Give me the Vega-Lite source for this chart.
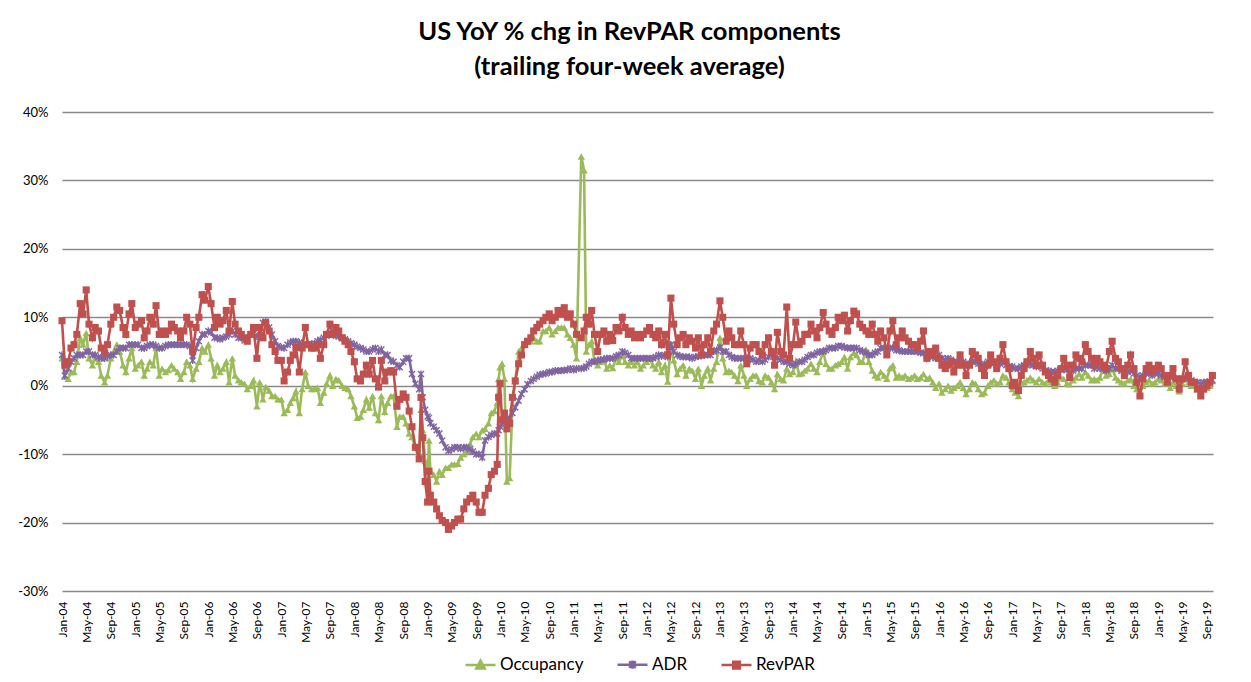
{
"$schema":"https://vega.github.io/schema/vega-lite/v6.json",
"width":1151,"height":479,
"autosize":{"type":"none"},
"padding":{"left":62,"top":112,"right":38,"bottom":91},
"background":"white",
"title":{"text":["US YoY % chg in RevPAR components","(trailing four-week average)"],"fontSize":25.5,"font":"Lato","fontWeight":"bold","color":"#000","anchor":"middle","offset":26,"dx":-8,"lineHeight":35},
"config":{"view":{"stroke":null},"font":"Lato"},
"data":{"format":{"parse":{"d":"date:'%Y-%m-%d'"}},"values":[
{"d":"2004-01-01","o":4,"a":4.5,"r":9.5},
{"d":"2004-01-15","o":1.3,"a":1.5,"r":3},
{"d":"2004-02-01","o":1,"a":2.5,"r":3.5},
{"d":"2004-02-15","o":2,"a":3.5,"r":5.5},
{"d":"2004-03-01","o":2,"a":4,"r":6},
{"d":"2004-03-15","o":3.5,"a":4.5,"r":7.5},
{"d":"2004-04-01","o":7,"a":4.5,"r":12},
{"d":"2004-04-15","o":6,"a":4.5,"r":10.5},
{"d":"2004-05-01","o":7.7,"a":5,"r":14},
{"d":"2004-05-15","o":4,"a":5,"r":9},
{"d":"2004-06-01","o":3,"a":4.5,"r":7},
{"d":"2004-06-15","o":4,"a":4.5,"r":8.5},
{"d":"2004-07-01","o":3.5,"a":4.2,"r":8},
{"d":"2004-07-15","o":1.5,"a":4,"r":5.5},
{"d":"2004-08-01","o":0.5,"a":4,"r":4.8},
{"d":"2004-08-15","o":1.5,"a":4.3,"r":6},
{"d":"2004-09-01","o":4,"a":4.5,"r":9},
{"d":"2004-09-15","o":5,"a":4.5,"r":10},
{"d":"2004-10-01","o":6,"a":5,"r":11.5},
{"d":"2004-10-15","o":5,"a":5.5,"r":11},
{"d":"2004-11-01","o":3,"a":5.5,"r":8.5},
{"d":"2004-11-15","o":2,"a":5.5,"r":7.5},
{"d":"2004-12-01","o":4,"a":6,"r":10.5},
{"d":"2004-12-15","o":5.5,"a":6,"r":12},
{"d":"2005-01-01","o":2.5,"a":6,"r":8.5},
{"d":"2005-01-15","o":3,"a":6,"r":9},
{"d":"2005-02-01","o":3.5,"a":5.5,"r":9.5},
{"d":"2005-02-15","o":1.5,"a":5.5,"r":7},
{"d":"2005-03-01","o":2.5,"a":5.8,"r":8},
{"d":"2005-03-15","o":3.5,"a":6,"r":10},
{"d":"2005-04-01","o":3,"a":6,"r":9},
{"d":"2005-04-15","o":5.5,"a":5.8,"r":11.7},
{"d":"2005-05-01","o":1.5,"a":5.5,"r":7.5},
{"d":"2005-05-15","o":2.5,"a":5.5,"r":8},
{"d":"2005-06-01","o":2,"a":5.8,"r":7.5},
{"d":"2005-06-15","o":2.3,"a":6,"r":8},
{"d":"2005-07-01","o":3,"a":6,"r":9},
{"d":"2005-07-15","o":2.5,"a":6,"r":8.5},
{"d":"2005-08-01","o":2,"a":6,"r":8},
{"d":"2005-08-15","o":1,"a":6,"r":7},
{"d":"2005-09-01","o":2,"a":6,"r":8},
{"d":"2005-09-15","o":3.5,"a":6,"r":10},
{"d":"2005-10-01","o":3,"a":5.8,"r":9},
{"d":"2005-10-15","o":1,"a":3.7,"r":5},
{"d":"2005-11-01","o":2.5,"a":5.5,"r":8.5},
{"d":"2005-11-15","o":3.5,"a":6.5,"r":10},
{"d":"2005-12-01","o":5.5,"a":7.5,"r":13.3},
{"d":"2005-12-15","o":5,"a":7.5,"r":12.5},
{"d":"2006-01-01","o":6,"a":8,"r":14.5},
{"d":"2006-01-15","o":4,"a":7.8,"r":12},
{"d":"2006-02-01","o":1.5,"a":7,"r":8.5},
{"d":"2006-02-15","o":3,"a":7,"r":10},
{"d":"2006-03-01","o":2,"a":6.8,"r":9},
{"d":"2006-03-15","o":2.5,"a":7,"r":9.5},
{"d":"2006-04-01","o":3.5,"a":7.2,"r":11},
{"d":"2006-04-15","o":0.5,"a":7.5,"r":8},
{"d":"2006-05-01","o":4,"a":8,"r":12.3},
{"d":"2006-05-15","o":1.5,"a":7.5,"r":9},
{"d":"2006-06-01","o":0.8,"a":7,"r":8},
{"d":"2006-06-15","o":0.5,"a":7,"r":7.5},
{"d":"2006-07-01","o":0.3,"a":6.6,"r":7},
{"d":"2006-07-15","o":-0.5,"a":7,"r":6.5},
{"d":"2006-08-01","o":0,"a":7.5,"r":7.5},
{"d":"2006-08-15","o":0.8,"a":7.6,"r":8.5},
{"d":"2006-09-01","o":-3,"a":7.2,"r":4},
{"d":"2006-09-15","o":0.5,"a":8,"r":8.5},
{"d":"2006-10-01","o":-2,"a":9.2,"r":7},
{"d":"2006-10-15","o":-0.2,"a":9.4,"r":9.2},
{"d":"2006-11-01","o":-0.7,"a":8.5,"r":8},
{"d":"2006-11-15","o":-1.5,"a":7.5,"r":6},
{"d":"2006-12-01","o":-1.5,"a":6.5,"r":5},
{"d":"2006-12-15","o":-2,"a":5.8,"r":3.7},
{"d":"2007-01-01","o":-2,"a":5.6,"r":3.7},
{"d":"2007-01-15","o":-4,"a":5.5,"r":0.7},
{"d":"2007-02-01","o":-3.5,"a":6,"r":2},
{"d":"2007-02-15","o":-2.5,"a":6.3,"r":3.7},
{"d":"2007-03-01","o":-1.8,"a":6.5,"r":4.5},
{"d":"2007-03-15","o":-0.8,"a":6.5,"r":5.6},
{"d":"2007-04-01","o":-4,"a":6.3,"r":2},
{"d":"2007-04-15","o":-0.5,"a":6,"r":5.5},
{"d":"2007-05-01","o":2,"a":6,"r":8.5},
{"d":"2007-05-15","o":0,"a":6,"r":6},
{"d":"2007-06-01","o":-0.5,"a":6,"r":5.5},
{"d":"2007-06-15","o":-0.5,"a":6.2,"r":5.5},
{"d":"2007-07-01","o":-0.3,"a":6.5,"r":6},
{"d":"2007-07-15","o":-2.5,"a":6.7,"r":4},
{"d":"2007-08-01","o":-1,"a":7,"r":6},
{"d":"2007-08-15","o":0.3,"a":7.3,"r":7.5},
{"d":"2007-09-01","o":1.5,"a":7.6,"r":9},
{"d":"2007-09-15","o":0,"a":7.5,"r":7.5},
{"d":"2007-10-01","o":1,"a":7.3,"r":8.5},
{"d":"2007-10-15","o":0.8,"a":7.2,"r":8},
{"d":"2007-11-01","o":0,"a":7,"r":7},
{"d":"2007-11-15","o":-0.3,"a":6.8,"r":6.5},
{"d":"2007-12-01","o":-0.5,"a":6.5,"r":6},
{"d":"2007-12-15","o":-1.5,"a":6.2,"r":5},
{"d":"2008-01-01","o":-3,"a":6,"r":3.5},
{"d":"2008-01-15","o":-4.7,"a":5.7,"r":1},
{"d":"2008-02-01","o":-4.5,"a":5.5,"r":0.7},
{"d":"2008-02-15","o":-3.5,"a":5.3,"r":1.7},
{"d":"2008-03-01","o":-2,"a":5,"r":3},
{"d":"2008-03-15","o":-3.2,"a":5,"r":1.7},
{"d":"2008-04-01","o":-1.5,"a":5.3,"r":3.7},
{"d":"2008-04-15","o":-4,"a":5.5,"r":1},
{"d":"2008-05-01","o":-5,"a":5,"r":-0.2},
{"d":"2008-05-15","o":-1.5,"a":5.3,"r":3.7},
{"d":"2008-06-01","o":-3.8,"a":4.5,"r":0.7},
{"d":"2008-06-15","o":-2.5,"a":4.5,"r":2},
{"d":"2008-07-01","o":-1.5,"a":3.7,"r":2.2},
{"d":"2008-07-15","o":-1.5,"a":3.5,"r":2},
{"d":"2008-08-01","o":-6,"a":3,"r":-3},
{"d":"2008-08-15","o":-4.5,"a":2.7,"r":-2},
{"d":"2008-09-01","o":-4.5,"a":3.5,"r":-1.2},
{"d":"2008-09-15","o":-5.5,"a":4,"r":-1.7},
{"d":"2008-10-01","o":-7,"a":4,"r":-3.7},
{"d":"2008-10-15","o":-7.5,"a":1.7,"r":-6},
{"d":"2008-11-01","o":-9,"a":0.3,"r":-9},
{"d":"2008-11-20","o":-10,"a":-0.5,"r":-10.7},
{"d":"2008-11-29","o":-3.5,"a":1.7,"r":-1.7},
{"d":"2008-12-08","o":-6.5,"a":-1.7,"r":-7.6},
{"d":"2008-12-20","o":-11,"a":-3.5,"r":-14},
{"d":"2009-01-01","o":-13.5,"a":-4.5,"r":-17},
{"d":"2009-01-08","o":-8,"a":-4.7,"r":-12.5},
{"d":"2009-01-15","o":-12.5,"a":-5.5,"r":-16},
{"d":"2009-02-01","o":-13,"a":-6,"r":-17},
{"d":"2009-02-15","o":-14,"a":-6.5,"r":-18},
{"d":"2009-03-01","o":-12.5,"a":-7,"r":-19},
{"d":"2009-03-15","o":-13,"a":-8,"r":-19.7},
{"d":"2009-04-01","o":-12,"a":-9,"r":-20},
{"d":"2009-04-15","o":-12,"a":-9.5,"r":-21},
{"d":"2009-05-01","o":-11.5,"a":-9.3,"r":-20.5},
{"d":"2009-05-15","o":-11.5,"a":-9,"r":-20},
{"d":"2009-06-01","o":-11.4,"a":-9,"r":-19.5},
{"d":"2009-06-15","o":-10.5,"a":-9.2,"r":-19.5},
{"d":"2009-07-01","o":-10,"a":-9,"r":-18},
{"d":"2009-07-15","o":-9.5,"a":-9,"r":-17},
{"d":"2009-08-01","o":-8.5,"a":-9.3,"r":-16.5},
{"d":"2009-08-15","o":-7.5,"a":-9.6,"r":-16},
{"d":"2009-09-01","o":-7,"a":-10,"r":-17},
{"d":"2009-09-15","o":-7.5,"a":-10,"r":-18.5},
{"d":"2009-10-01","o":-6.5,"a":-10.5,"r":-18.5},
{"d":"2009-10-15","o":-6.3,"a":-8,"r":-16},
{"d":"2009-11-01","o":-5.5,"a":-7.5,"r":-15},
{"d":"2009-11-15","o":-4,"a":-7.2,"r":-13},
{"d":"2009-12-01","o":-3.7,"a":-7,"r":-12.5},
{"d":"2009-12-15","o":-2.5,"a":-7,"r":-11.5},
{"d":"2009-12-22","o":1,"a":-6.5,"r":-1.7},
{"d":"2009-12-29","o":2.7,"a":-6,"r":0.3},
{"d":"2010-01-08","o":3.2,"a":-5.6,"r":-5},
{"d":"2010-01-20","o":1,"a":-5.2,"r":-4},
{"d":"2010-02-01","o":-14,"a":-4.8,"r":-6.3},
{"d":"2010-02-15","o":-13.5,"a":-4.7,"r":-5.5},
{"d":"2010-03-01","o":-3,"a":-4,"r":-1.7},
{"d":"2010-03-15","o":0.7,"a":-3.2,"r":0.7},
{"d":"2010-04-01","o":5,"a":-2.2,"r":3.2},
{"d":"2010-04-15","o":5.5,"a":-1.2,"r":4.5},
{"d":"2010-05-01","o":6,"a":-0.5,"r":6},
{"d":"2010-05-15","o":6.5,"a":0.2,"r":6.5},
{"d":"2010-06-01","o":6.5,"a":0.7,"r":7},
{"d":"2010-06-15","o":7,"a":1,"r":8},
{"d":"2010-07-01","o":6.5,"a":1.3,"r":8.5},
{"d":"2010-07-15","o":6.5,"a":1.6,"r":9},
{"d":"2010-08-01","o":8,"a":1.7,"r":9.5},
{"d":"2010-08-15","o":8,"a":1.8,"r":10},
{"d":"2010-09-01","o":8.5,"a":2,"r":10.5},
{"d":"2010-09-15","o":7.5,"a":2,"r":9.5},
{"d":"2010-10-01","o":8,"a":2.2,"r":10},
{"d":"2010-10-15","o":8.5,"a":2.2,"r":11},
{"d":"2010-11-01","o":8.5,"a":2.2,"r":10.5},
{"d":"2010-11-15","o":8.5,"a":2.3,"r":11.4},
{"d":"2010-12-01","o":7.5,"a":2.3,"r":10},
{"d":"2010-12-15","o":7,"a":2.5,"r":10.5},
{"d":"2011-01-01","o":6,"a":2.3,"r":9},
{"d":"2011-01-15","o":4,"a":2.5,"r":7.5},
{"d":"2011-02-08","o":33.5,"a":2.5,"r":7},
{"d":"2011-02-22","o":31.5,"a":2.6,"r":8},
{"d":"2011-03-05","o":5,"a":2.8,"r":10},
{"d":"2011-03-18","o":6,"a":3.2,"r":9},
{"d":"2011-04-01","o":6.5,"a":3.5,"r":11},
{"d":"2011-04-15","o":3.5,"a":3.5,"r":7.5},
{"d":"2011-05-01","o":3,"a":3.7,"r":5},
{"d":"2011-05-15","o":3.5,"a":3.8,"r":7.5},
{"d":"2011-06-01","o":4,"a":3.8,"r":8},
{"d":"2011-06-15","o":2.5,"a":4,"r":6.5},
{"d":"2011-07-01","o":3,"a":4,"r":7.5},
{"d":"2011-07-15","o":2.6,"a":4,"r":6.6},
{"d":"2011-08-01","o":4,"a":4.3,"r":8.5},
{"d":"2011-08-15","o":3.5,"a":4.5,"r":8},
{"d":"2011-09-01","o":4.4,"a":5,"r":10},
{"d":"2011-09-15","o":3.5,"a":4.8,"r":8.5},
{"d":"2011-10-01","o":3,"a":4.5,"r":7.5},
{"d":"2011-10-15","o":3.5,"a":4,"r":8},
{"d":"2011-11-01","o":3,"a":4,"r":7},
{"d":"2011-11-15","o":3.5,"a":4,"r":7.5},
{"d":"2011-12-01","o":2.5,"a":4,"r":7},
{"d":"2011-12-15","o":3,"a":4,"r":7.5},
{"d":"2012-01-01","o":3.5,"a":4,"r":8},
{"d":"2012-01-15","o":4,"a":4,"r":8.5},
{"d":"2012-02-01","o":3,"a":4,"r":7.5},
{"d":"2012-02-15","o":2.5,"a":4.2,"r":7},
{"d":"2012-03-01","o":3.5,"a":4.5,"r":8},
{"d":"2012-03-15","o":2,"a":4.3,"r":6},
{"d":"2012-04-01","o":3,"a":4.5,"r":7.5},
{"d":"2012-04-15","o":0.6,"a":4.2,"r":4.5},
{"d":"2012-05-01","o":6,"a":6,"r":12.8},
{"d":"2012-05-15","o":3.7,"a":5,"r":9},
{"d":"2012-06-01","o":1.7,"a":4.5,"r":6},
{"d":"2012-06-15","o":2.5,"a":4.3,"r":7},
{"d":"2012-07-01","o":3,"a":4.2,"r":7.5},
{"d":"2012-07-15","o":1.5,"a":4.2,"r":6},
{"d":"2012-08-01","o":2.5,"a":4.2,"r":7},
{"d":"2012-08-15","o":2.2,"a":4,"r":6.5},
{"d":"2012-09-01","o":1,"a":4.2,"r":5.5},
{"d":"2012-09-15","o":2.5,"a":4.3,"r":7},
{"d":"2012-10-01","o":0,"a":4.4,"r":4.5},
{"d":"2012-10-15","o":1.5,"a":4.5,"r":6},
{"d":"2012-11-01","o":2.5,"a":4.5,"r":7},
{"d":"2012-11-15","o":0.8,"a":4.5,"r":5},
{"d":"2012-12-01","o":2.5,"a":5,"r":8},
{"d":"2012-12-15","o":3.5,"a":5.2,"r":9},
{"d":"2013-01-01","o":7,"a":5.6,"r":12.4},
{"d":"2013-01-15","o":4,"a":5,"r":10},
{"d":"2013-02-01","o":2,"a":5,"r":6.5},
{"d":"2013-02-15","o":2.2,"a":4.5,"r":8},
{"d":"2013-03-01","o":2,"a":4.2,"r":7},
{"d":"2013-03-15","o":1.5,"a":4,"r":6},
{"d":"2013-04-01","o":0.7,"a":4,"r":6},
{"d":"2013-04-15","o":3,"a":4,"r":8},
{"d":"2013-05-01","o":1.5,"a":4,"r":6},
{"d":"2013-05-15","o":0,"a":4,"r":3.2},
{"d":"2013-06-01","o":1,"a":4,"r":5.5},
{"d":"2013-06-15","o":1.5,"a":3.8,"r":6},
{"d":"2013-07-01","o":1.5,"a":3.5,"r":6},
{"d":"2013-07-15","o":0.7,"a":3.7,"r":5},
{"d":"2013-08-01","o":0.5,"a":3.5,"r":4.5},
{"d":"2013-08-15","o":1.5,"a":3.8,"r":6},
{"d":"2013-09-01","o":1.2,"a":4.2,"r":7},
{"d":"2013-09-15","o":0.5,"a":4.5,"r":5},
{"d":"2013-10-01","o":-0.5,"a":4.5,"r":3},
{"d":"2013-10-15","o":1.7,"a":4,"r":7.8},
{"d":"2013-11-01","o":1,"a":3.8,"r":5},
{"d":"2013-11-15","o":0.8,"a":3.5,"r":4.5},
{"d":"2013-12-01","o":2.5,"a":3.5,"r":11.5},
{"d":"2013-12-15","o":1.7,"a":3.2,"r":4},
{"d":"2014-01-01","o":2,"a":3,"r":6},
{"d":"2014-01-15","o":3.5,"a":3.2,"r":9.3},
{"d":"2014-02-01","o":1.7,"a":3.5,"r":6},
{"d":"2014-02-15","o":1.8,"a":3.5,"r":6.5},
{"d":"2014-03-01","o":2.2,"a":3.8,"r":7.5},
{"d":"2014-03-15","o":2.5,"a":4.2,"r":7.5},
{"d":"2014-04-01","o":3.2,"a":4.5,"r":9},
{"d":"2014-04-15","o":2.5,"a":4.5,"r":8},
{"d":"2014-05-01","o":2,"a":4.8,"r":7},
{"d":"2014-05-15","o":3.5,"a":5,"r":8.5},
{"d":"2014-06-01","o":5,"a":5,"r":10.7},
{"d":"2014-06-15","o":3.2,"a":5.2,"r":9},
{"d":"2014-07-01","o":2.5,"a":5.5,"r":8},
{"d":"2014-07-15","o":2.5,"a":5.5,"r":7.5},
{"d":"2014-08-01","o":3,"a":5.5,"r":8.5},
{"d":"2014-08-15","o":3.2,"a":5.8,"r":10},
{"d":"2014-09-01","o":3.5,"a":5.8,"r":9.5},
{"d":"2014-09-15","o":4.2,"a":5.6,"r":10.3},
{"d":"2014-10-01","o":2.5,"a":5.5,"r":8},
{"d":"2014-10-15","o":4.2,"a":5.5,"r":9.5},
{"d":"2014-11-01","o":4.8,"a":5.5,"r":10.9},
{"d":"2014-11-15","o":4.5,"a":5.5,"r":10.5},
{"d":"2014-12-01","o":3.5,"a":5.2,"r":9},
{"d":"2014-12-15","o":3.5,"a":5,"r":8.5},
{"d":"2015-01-01","o":5.3,"a":4.8,"r":8},
{"d":"2015-01-15","o":3.5,"a":4.5,"r":7.5},
{"d":"2015-02-01","o":2.2,"a":4.5,"r":9},
{"d":"2015-02-15","o":1.5,"a":4.8,"r":7.5},
{"d":"2015-03-01","o":1.2,"a":5,"r":6.5},
{"d":"2015-03-15","o":2,"a":5.5,"r":8},
{"d":"2015-04-01","o":1.5,"a":5.5,"r":7},
{"d":"2015-04-15","o":1,"a":5.3,"r":4.5},
{"d":"2015-05-01","o":2.6,"a":5.5,"r":8},
{"d":"2015-05-15","o":3,"a":5.5,"r":9.5},
{"d":"2015-06-01","o":1.2,"a":5.2,"r":6},
{"d":"2015-06-15","o":1.5,"a":5.2,"r":7},
{"d":"2015-07-01","o":1.2,"a":5,"r":8},
{"d":"2015-07-15","o":1.5,"a":5,"r":7},
{"d":"2015-08-01","o":1,"a":5,"r":6.5},
{"d":"2015-08-15","o":1.2,"a":5,"r":6},
{"d":"2015-09-01","o":1.5,"a":5,"r":6},
{"d":"2015-09-15","o":1,"a":5,"r":5.5},
{"d":"2015-10-01","o":1.2,"a":4.8,"r":6.5},
{"d":"2015-10-15","o":1.7,"a":4.8,"r":8},
{"d":"2015-11-01","o":1,"a":4.5,"r":4},
{"d":"2015-11-15","o":1.2,"a":4.5,"r":5},
{"d":"2015-12-01","o":0.5,"a":4.2,"r":4.5},
{"d":"2015-12-15","o":-0.3,"a":4,"r":5.5},
{"d":"2016-01-01","o":0.3,"a":4.5,"r":4},
{"d":"2016-01-15","o":-1,"a":4,"r":3},
{"d":"2016-02-01","o":-0.5,"a":3.8,"r":2.5},
{"d":"2016-02-15","o":0,"a":4,"r":3},
{"d":"2016-03-01","o":-0.7,"a":3.8,"r":3.5},
{"d":"2016-03-15","o":-0.3,"a":3.5,"r":2},
{"d":"2016-04-01","o":0,"a":3.5,"r":3},
{"d":"2016-04-15","o":0.5,"a":3.8,"r":4.5},
{"d":"2016-05-01","o":-0.3,"a":3.5,"r":3},
{"d":"2016-05-15","o":-1.2,"a":3.2,"r":1.5},
{"d":"2016-06-01","o":-0.5,"a":3.2,"r":3},
{"d":"2016-06-15","o":0.5,"a":3.5,"r":5},
{"d":"2016-07-01","o":0.3,"a":3.5,"r":4.5},
{"d":"2016-07-15","o":-0.5,"a":3.2,"r":4},
{"d":"2016-08-01","o":-1.2,"a":3,"r":2.5},
{"d":"2016-08-15","o":-1,"a":3.2,"r":1.5},
{"d":"2016-09-01","o":0,"a":3.5,"r":3},
{"d":"2016-09-15","o":0.5,"a":3.5,"r":4.5},
{"d":"2016-10-01","o":0.8,"a":3.2,"r":3.5},
{"d":"2016-10-15","o":0.3,"a":3,"r":2.5},
{"d":"2016-11-01","o":0.5,"a":3.2,"r":4},
{"d":"2016-11-15","o":1.5,"a":3.5,"r":6},
{"d":"2016-12-01","o":1.2,"a":3,"r":3.5},
{"d":"2016-12-15","o":0.5,"a":2.8,"r":2.5},
{"d":"2017-01-01","o":-0.5,"a":2.8,"r":0},
{"d":"2017-01-15","o":-1,"a":2.5,"r":0.5},
{"d":"2017-02-01","o":-1.5,"a":2.5,"r":-0.7},
{"d":"2017-02-15","o":0.5,"a":2.8,"r":1.5},
{"d":"2017-03-01","o":0.5,"a":3,"r":2.5},
{"d":"2017-03-15","o":0.8,"a":3,"r":3.5},
{"d":"2017-04-01","o":1.2,"a":3.2,"r":5},
{"d":"2017-04-15","o":0.8,"a":3,"r":4},
{"d":"2017-05-01","o":0.5,"a":2.8,"r":3},
{"d":"2017-05-15","o":1,"a":2.8,"r":4.5},
{"d":"2017-06-01","o":0.5,"a":2.5,"r":3},
{"d":"2017-06-15","o":0.3,"a":2.2,"r":2},
{"d":"2017-07-01","o":0.8,"a":2.2,"r":1.5},
{"d":"2017-07-15","o":0.5,"a":2,"r":1},
{"d":"2017-08-01","o":0,"a":2,"r":0.5},
{"d":"2017-08-15","o":0.5,"a":2.2,"r":1.5},
{"d":"2017-09-01","o":1.2,"a":2.3,"r":2.5},
{"d":"2017-09-15","o":1,"a":2.5,"r":4},
{"d":"2017-10-01","o":0.3,"a":2.3,"r":3},
{"d":"2017-10-15","o":0.2,"a":2,"r":1.2},
{"d":"2017-11-01","o":0.8,"a":2.2,"r":3},
{"d":"2017-11-15","o":1.2,"a":2.5,"r":4.5},
{"d":"2017-12-01","o":1.7,"a":2.5,"r":4},
{"d":"2017-12-15","o":1.2,"a":2.5,"r":3.5},
{"d":"2018-01-01","o":2,"a":3,"r":6},
{"d":"2018-01-15","o":1.5,"a":3,"r":5},
{"d":"2018-02-01","o":0.8,"a":3,"r":4},
{"d":"2018-02-15","o":1,"a":2.5,"r":3},
{"d":"2018-03-01","o":0.8,"a":2.8,"r":4},
{"d":"2018-03-15","o":1.2,"a":2.5,"r":3.5},
{"d":"2018-04-01","o":2.5,"a":2.5,"r":3},
{"d":"2018-04-15","o":1.5,"a":2.2,"r":2.5},
{"d":"2018-05-01","o":1.7,"a":2.5,"r":5},
{"d":"2018-05-15","o":2.5,"a":3,"r":6.5},
{"d":"2018-06-01","o":1.2,"a":2.5,"r":4},
{"d":"2018-06-15","o":0.8,"a":2.5,"r":3.5},
{"d":"2018-07-01","o":0.5,"a":2.2,"r":2.5},
{"d":"2018-07-15","o":0.3,"a":1.8,"r":1.5},
{"d":"2018-08-01","o":0.8,"a":2,"r":3},
{"d":"2018-08-15","o":1,"a":2.2,"r":4.5},
{"d":"2018-09-01","o":0,"a":1.8,"r":2.5},
{"d":"2018-09-15","o":-0.5,"a":1.5,"r":0.5},
{"d":"2018-10-01","o":-1.2,"a":1.2,"r":-1.5},
{"d":"2018-10-15","o":0,"a":1.5,"r":1},
{"d":"2018-11-01","o":0.5,"a":1.8,"r":2.5},
{"d":"2018-11-15","o":0.8,"a":1.8,"r":3},
{"d":"2018-12-01","o":0.3,"a":1.5,"r":2},
{"d":"2018-12-15","o":0.5,"a":1.8,"r":2.5},
{"d":"2019-01-01","o":1,"a":1.8,"r":3},
{"d":"2019-01-15","o":0.8,"a":1.5,"r":2.5},
{"d":"2019-02-01","o":0.3,"a":1.2,"r":1.5},
{"d":"2019-02-15","o":0.3,"a":1,"r":0.5},
{"d":"2019-03-01","o":-0.3,"a":1.2,"r":1.5},
{"d":"2019-03-15","o":0.5,"a":1.5,"r":2.5},
{"d":"2019-04-01","o":0,"a":1,"r":1},
{"d":"2019-04-15","o":-0.8,"a":0.8,"r":-0.5},
{"d":"2019-05-01","o":0.3,"a":1,"r":1},
{"d":"2019-05-15","o":1,"a":1.2,"r":3.5},
{"d":"2019-06-01","o":0.5,"a":1,"r":1.5},
{"d":"2019-06-15","o":0,"a":0.8,"r":0.5},
{"d":"2019-07-01","o":0.3,"a":0.5,"r":0.5},
{"d":"2019-07-15","o":-0.3,"a":0.5,"r":-0.5},
{"d":"2019-08-01","o":-1,"a":0.3,"r":-1.5},
{"d":"2019-08-15","o":-0.5,"a":0.5,"r":-0.5},
{"d":"2019-09-01","o":-0.3,"a":0.5,"r":0},
{"d":"2019-09-15","o":0,"a":0.6,"r":0.5},
{"d":"2019-09-28","o":0.7,"a":0.8,"r":1.5}
]},
"transform":[{"fold":["o","a","r"],"as":["k","val"]}],
"encoding":{
 "x":{"field":"d","type":"temporal","scale":{"domain":[{"year":2004,"month":1,"date":1},{"year":2019,"month":10,"date":1}]},
  "axis":{"title":null,"format":"%b-%y","labelAngle":270,"tickCount":{"interval":"month","step":4},"grid":false,"domain":false,"ticks":false,"labelPadding":10,"labelFontSize":12,"labelColor":"#000","labelOverlap":false,"labelFlush":false,"labelFont":"Lato"}},
 "y":{"field":"val","type":"quantitative","scale":{"domain":[-30,40],"nice":false,"zero":false},
  "axis":{"title":null,"values":[-30,-20,-10,0,10,20,30,40],"labelExpr":"datum.value+'%'","grid":true,"gridColor":"#8a8a8a","gridWidth":1.3,"domain":false,"ticks":false,"labelPadding":14,"labelFontSize":13,"labelColor":"#000","labelFont":"Lato"}},
 "color":{"field":"k","type":"nominal","scale":{"domain":["o","a","r"],"range":["#9BBB59","#8064A2","#C0504D"]},
  "legend":{"title":null,"orient":"none","legendX":402,"legendY":536,"direction":"horizontal","padding":0,"symbolSize":900,"symbolStrokeWidth":2.5,"labelFontSize":17,"labelFont":"Lato","labelColor":"#000","labelOffset":3,"columnPadding":28,
   "labelExpr":"datum.label==='o'?'Occupancy':datum.label==='a'?'ADR':'RevPAR'",
   "encode":{"symbols":{"update":{
     "shape":{"signal":"datum.value==='o'?'M-1,0H1M0,-0.3L0.28,0.22L-0.28,0.22Z':datum.value==='a'?'M-1,0H1M-0.22,-0.22L0.22,0.22M-0.22,0.22L0.22,-0.22M0,-0.28V0.28':'M-1,0H1M-0.22,-0.22H0.22V0.22H-0.22Z'"},
     "fill":{"signal":"datum.value==='o'?'#9BBB59':datum.value==='a'?'#8064A2':'#C0504D'"},
     "stroke":{"signal":"datum.value==='o'?'#9BBB59':datum.value==='a'?'#8064A2':'#C0504D'"},
     "strokeWidth":{"value":2.5},"opacity":{"value":1}}}}}}
},
"layer":[
 {"transform":[{"filter":"datum.k==='o'"}],"mark":{"type":"line","strokeWidth":2.6}},
 {"transform":[{"filter":"datum.k==='o'"}],"mark":{"type":"point","shape":"triangle-up","filled":true,"size":55,"opacity":1}},
 {"transform":[{"filter":"datum.k==='a'"}],"mark":{"type":"line","strokeWidth":2.6}},
 {"transform":[{"filter":"datum.k==='a'"}],"mark":{"type":"point","shape":"M-1,-1L1,1M-1,1L1,-1M0,-1.2V1.2","filled":false,"size":36,"strokeWidth":1.4,"opacity":1}},
 {"transform":[{"filter":"datum.k==='r'"}],"mark":{"type":"line","strokeWidth":2.6}},
 {"transform":[{"filter":"datum.k==='r'"}],"mark":{"type":"point","shape":"square","filled":true,"size":50,"opacity":1}}
]
}
